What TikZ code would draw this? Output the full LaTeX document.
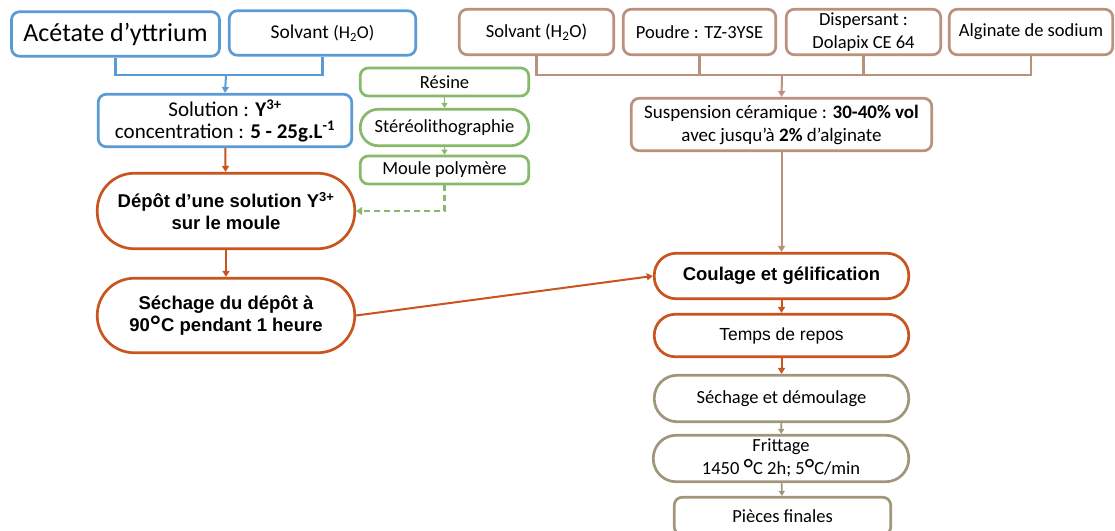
\documentclass[tikz,border=0pt]{standalone}
\usepackage{fontspec}
\setmainfont{Carlito}
\newfontfamily\arialfont{Liberation Sans}
\usetikzlibrary{arrows.meta}
\definecolor{bluebox}{HTML}{5B9BD5}
\definecolor{orangebox}{HTML}{C9541E}
\definecolor{brownbox}{HTML}{BA917C}
\definecolor{greenbox}{HTML}{86B96A}
\definecolor{tanbox}{HTML}{A0967A}
\newcommand{\degsign}{\raisebox{-0.22em}{\fontsize{28}{20}\selectfont °}}
\begin{document}
\begin{tikzpicture}[x=1pt,y=-1pt,
  box/.style={draw,line width=2.7pt,rounded corners=8pt,fill=white,align=center,inner sep=0pt},
  pill/.style={box,rounded corners=#1},
  txt/.style={font=\fontsize{18.5}{22.5}\selectfont},
  arialb/.style={font=\arialfont\bfseries\fontsize{18.5}{22.5}\selectfont},
  link/.style={line width=2pt,-{Triangle[width=7pt,length=6pt]}},
  thin link/.style={line width=1.6pt,-{Triangle[width=6pt,length=5pt]}}]
\useasboundingbox (0,0) rectangle (1115,530);
% blue branch
\node[box,draw=bluebox,minimum width=208pt,minimum height=44.5pt,font=\fontsize{26}{30}\selectfont] (acet) at (115.5,34) {Acétate d’yttrium};
\node[box,draw=bluebox,minimum width=186.5pt,minimum height=44.5pt,font=\fontsize{19.5}{22}\selectfont] (solvb) at (322.5,33) {Solvant {\fontsize{18}{20}\selectfont(H\textsubscript{2}O)}};
\node[box,draw=bluebox,minimum width=253.5pt,minimum height=52.5pt,font=\fontsize{21}{21.5}\selectfont] (sol) at (225,120.5)
  {Solution : \textbf{Y\textsuperscript{3+}}\\concentration : \textbf{5 - 25g.L\textsuperscript{-1}}};
\coordinate (bjoin) at (226,75);
\draw[bluebox,line width=2.6pt] (acet.south) -- (acet.south |- bjoin) -- (solvb.south |- bjoin) -- (solvb.south);
\draw[link,bluebox] (bjoin) -- (sol.north);
% green branch
\node[box,draw=greenbox,minimum width=168.5pt,minimum height=28pt,txt] (resine) at (444.5,82) {Résine};
\node[pill=18pt,draw=greenbox,minimum width=168.5pt,minimum height=36.5pt,txt] (stereo) at (444.5,127.5) {Stéréolithographie};
\node[box,draw=greenbox,minimum width=168.5pt,minimum height=28pt,txt] (moule) at (444.5,170) {Moule polymère};
\draw[thin link,greenbox] (resine) -- (stereo);
\draw[thin link,greenbox] (stereo) -- (moule);
% orange branch
\node[pill=37pt,draw=orangebox,minimum width=257.5pt,minimum height=75.5pt,arialb] (depot) at (226,211)
  {Dépôt d’une solution Y\textsuperscript{3+}\\sur le moule};
\node[pill=37pt,draw=orangebox,minimum width=257.5pt,minimum height=74.5pt,arialb] (sech) at (226,315.5)
  {Séchage du dépôt à\\90\degsign C pendant 1 heure};
\draw[link,orangebox] (sol) -- (depot);
\draw[link,orangebox] (depot) -- (sech);
\draw[line width=2.6pt,greenbox,dash pattern=on 6pt off 4pt,-{Triangle[width=8pt,length=6pt]}] (moule.south) |- (depot.east);
% brown branch
\node[box,draw=brownbox,minimum width=154.5pt,minimum height=45.5pt,txt] (solvr) at (536.5,32) {Solvant (H\textsubscript{2}O)};
\node[box,draw=brownbox,minimum width=152.5pt,minimum height=45.5pt,txt] (poudre) at (699.5,32) {Poudre : TZ-3YSE};
\node[box,draw=brownbox,minimum width=154.5pt,minimum height=45.5pt,txt] (disp) at (863.5,32) {Dispersant :\\Dolapix CE 64};
\node[box,draw=brownbox,minimum width=163.5pt,minimum height=45.5pt,txt] (algin) at (1031,32) {Alginate de sodium};
\node[box,draw=brownbox,minimum width=300.5pt,minimum height=52.5pt,font=\fontsize{19}{23}\selectfont] (susp) at (781.5,124.5)
  {Suspension céramique : \textbf{30-40\% vol}\\avec jusqu’à \textbf{2\%} d’alginate};
\coordinate (rjoin) at (782,75);
\draw[brownbox,line width=2.6pt] (solvr.south) -- (solvr.south |- rjoin) -- (algin.south |- rjoin) -- (algin.south);
\draw[brownbox,line width=2.6pt] (poudre.south) -- (poudre.south |- rjoin);
\draw[brownbox,line width=2.6pt] (disp.south) -- (disp.south |- rjoin);
\draw[link,brownbox] (rjoin) -- (susp.north);
% casting line
\node[pill=22pt,draw=orangebox,minimum width=254.5pt,minimum height=45.5pt,arialb] (coul) at (781.5,276) {Coulage et gélification};
\node[pill=21pt,draw=orangebox,minimum width=254.5pt,minimum height=42.5pt,font=\arialfont\fontsize{17.5}{21}\selectfont] (temps) at (781.5,335.5) {Temps de repos};
\node[pill=23pt,draw=tanbox,minimum width=254.5pt,minimum height=46.5pt,txt] (demoul) at (781.5,398.5) {Séchage et démoulage};
\node[pill=23pt,draw=tanbox,minimum width=255.5pt,minimum height=46.5pt,txt] (fritt) at (781,458.5) {Frittage\\1450 \degsign C 2h; 5\degsign C/min};
\node[box,draw=tanbox,minimum width=216.5pt,minimum height=37.5pt,txt] (pieces) at (782.5,516) {Pièces finales};
\draw[link,brownbox] (susp) -- (coul);
\draw[link,orangebox] (sech.east) -- (coul.west);
\draw[link,orangebox] (coul) -- (temps);
\draw[link,orangebox] (temps) -- (demoul);
\draw[thin link,tanbox] (demoul) -- (fritt);
\draw[thin link,tanbox] (fritt) -- (pieces);
\end{tikzpicture}
\end{document}
